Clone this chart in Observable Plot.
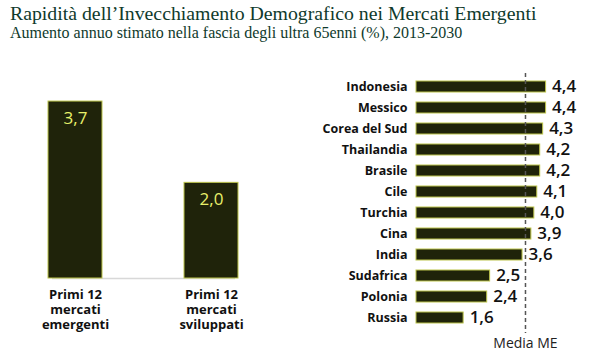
<!DOCTYPE html>
<html><head><meta charset="utf-8">
<script src="https://cdn.jsdelivr.net/npm/d3@7"></script>
<script src="https://cdn.jsdelivr.net/npm/@observablehq/plot@0.6"></script>
<style>
body{margin:0;background:#fff;}
#wrap{position:relative;width:600px;height:360px;overflow:hidden;background:#fff;}
.title{position:absolute;left:10px;top:2px;font-family:"Liberation Serif","DejaVu Serif",serif;font-size:19.8px;color:#0f3a2c;white-space:nowrap;}
.sub{position:absolute;left:10px;top:24px;font-family:"Liberation Serif","DejaVu Serif",serif;font-size:16px;color:#0f3a2c;white-space:nowrap;}
#left{position:absolute;left:0;top:50px;}
#right{position:absolute;left:300px;top:60px;}
</style></head>
<body>
<div id="wrap">
<div class="title">Rapidità dell’Invecchiamento Demografico nei Mercati Emergenti</div>
<div class="sub">Aumento annuo stimato nella fascia degli ultra 65enni (%), 2013-2030</div>
<div id="left"></div>
<div id="right"></div>
</div>
<script>
const groups = ["Primi 12\nmercati\nemergenti", "Primi 12\nmercati\nsviluppati"];
const groupValues = [3.7, 2.0];
const countries = ["Indonesia","Messico","Corea del Sud","Thailandia","Brasile","Cile","Turchia","Cina","India","Sudafrica","Polonia","Russia"];
const countryValues = [4.4,4.4,4.3,4.2,4.2,4.1,4.0,3.9,3.6,2.5,2.4,1.6];
const meanME = 3.7;
const meanLabel = "Media ME";

const fmt = v => v.toFixed(1).replace(".", ",");
const sans = "'Open Sans', 'Noto Sans', sans-serif";
const barFill = "#1f230a";
const barStroke = "#bcc44a";

const leftData = groups.map((g,i)=>({g, v: groupValues[i]}));
const left = Plot.plot({
  width: 290, height: 300,
  marginLeft: 7, marginRight: 10, marginTop: 8, marginBottom: 72,
  style: {fontFamily: sans, background: "transparent"},
  x: {domain: groups, paddingInner: 0.6, paddingOuter: 0.3, axis: null},
  y: {domain: [0, 4.6], axis: null},
  marks: [
    Plot.ruleY([0], {stroke: "#d8d8d8", strokeWidth: 1.5, insetLeft: 45, insetRight: 45}),
    Plot.barY(leftData, {x: "g", y: "v", fill: barFill, stroke: barStroke, strokeWidth: 1}),
    Plot.text(leftData, {x: "g", y: "v", text: d => fmt(d.v), dy: 17, fill: "#e8f06a", fontSize: 17, fontWeight: 500}),
    Plot.text(leftData, {x: "g", text: "g", frameAnchor: "bottom", lineAnchor: "top", dy: 10, lineHeight: 1.16, fontSize: 13, fontWeight: "bold", fill: "#111"})
  ]
});
document.getElementById("left").appendChild(left);

const rightData = countries.map((c,i)=>({c, v: countryValues[i]}));
const right = Plot.plot({
  width: 300, height: 300,
  marginLeft: 116, marginRight: 22, marginTop: 14, marginBottom: 30,
  style: {fontFamily: sans, background: "transparent"},
  x: {domain: [0, 5.5], axis: null},
  y: {domain: countries, paddingInner: 0.5, paddingOuter: 0.25, axis: null},
  marks: [
    Plot.barX(rightData, {y: "c", x: "v", fill: barFill, stroke: barStroke, strokeWidth: 1}),
    Plot.ruleX([meanME], {insetTop: -1, insetBottom: -3, stroke: "#555", strokeWidth: 1.5, strokeDasharray: "4,3"}),
    Plot.text(rightData, {y: "c", x: "v", text: d => fmt(d.v), textAnchor: "start", dx: 6, fontSize: 17, fontWeight: 600, fill: "#111"}),
    Plot.axisY({tickSize: 0, tickPadding: 9, fontSize: 12.5, fontWeight: "bold", color: "#111", label: null}),
    Plot.text([meanLabel], {x: meanME, frameAnchor: "bottom", dy: 17, text: d => d, fontSize: 14, fontWeight: 500, fill: "#222"})
  ]
});
document.getElementById("right").appendChild(right);
</script>
</body></html>
